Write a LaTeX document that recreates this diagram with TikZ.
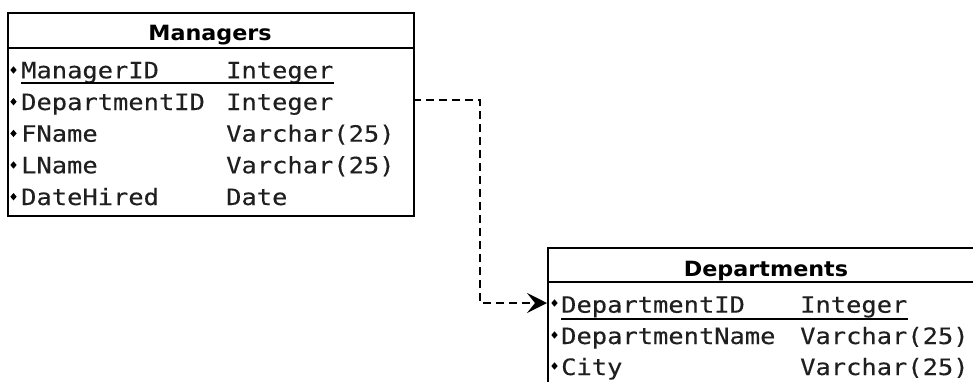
\documentclass[tikz,border=0pt]{standalone}
\usepackage{fontspec}
\usepackage{graphicx}
\usetikzlibrary{arrows.meta,shapes.geometric}
\newfontfamily\monofnt[FakeBold=0.2]{DejaVu Sans Mono}
\newfontfamily\titlefnt{DejaVu Sans}
\newcommand\hsc[1]{\scalebox{1.13}[1]{#1}}
\newcommand\hst[1]{\scalebox{1.06}[1]{#1}}
\tikzset{
  field/.style={anchor=base west, inner sep=0pt, font=\monofnt\fontsize{22.5}{22.5}\selectfont, text=black!88},
  ttl/.style={anchor=base, inner sep=0pt, font=\titlefnt\bfseries\fontsize{21}{21}\selectfont, text=black},
  tbl/.style={draw, line width=2.2pt, anchor=north west, inner sep=0pt},
  hline/.style={line width=2.2pt},
  uline/.style={line width=1.8pt, black},
  bul/.style={diamond, fill=black, inner sep=0pt, minimum width=6.5pt, minimum height=7.5pt},
  conn/.style={line width=1.8pt, dash pattern=on 8pt off 5pt, -{Stealth[length=20pt,width=20pt,inset=8pt]}}
}
\begin{document}
\begin{tikzpicture}[x=1pt,y=-1pt]
\useasboundingbox (0,0) rectangle (973,381);
\clip (0,0) rectangle (973,381);
\fill[white] (0,0) rectangle (973,381);

% Managers table
\node[tbl, minimum width=406pt, minimum height=203pt] (mgr) at (7,12) {};
\draw[hline] (7,47.7) -- (413,47.7);
\node[ttl] (mgrt) at (210,40.7) {\hst{Managers}};

\node[field] (m1) at (21,78.3) {\hsc{ManagerID}};
\node[field] (m2) at (21,110) {\hsc{DepartmentID}};
\node[field] (m3) at (21,141.7) {\hsc{FName}};
\node[field] (m4) at (21,173.3) {\hsc{LName}};
\node[field] (m5) at (21,205) {\hsc{DateHired}};

\node[field] (t1) at (226,78.3) {\hsc{Integer}};
\node[field] (t2) at (226,110) {\hsc{Integer}};
\node[field] (t3) at (226,141.7) {\hsc{Varchar(25)}};
\node[field] (t4) at (226,173.3) {\hsc{Varchar(25)}};
\node[field] (t5) at (226,205) {\hsc{Date}};

\node[bul] (b1) at (13.5,70) {};
\node[bul] (b2) at (13.5,101.7) {};
\node[bul] (b3) at (13.5,133.4) {};
\node[bul] (b4) at (13.5,165) {};
\node[bul] (b5) at (13.5,196.7) {};

\draw[uline] ([yshift=-5pt]m1.base west) -- ([yshift=-5pt]t1.base east);

% Departments table
\node[tbl, minimum width=438pt, minimum height=200pt] (dep) at (547,246.5) {};
\draw[hline] (547,282.3) -- (990,282.3);
\node[ttl] (dept) at (766,276) {\hst{Departments}};

\node[field] (d1) at (561,312.7) {\hsc{DepartmentID}};
\node[field] (d2) at (561,344) {\hsc{DepartmentName}};
\node[field] (d3) at (561,375) {\hsc{City}};

\node[field] (u1) at (800,312.7) {\hsc{Integer}};
\node[field] (u2) at (800,344) {\hsc{Varchar(25)}};
\node[field] (u3) at (800,375) {\hsc{Varchar(25)}};

\node[bul] (e1) at (554.5,303) {};
\node[bul] (e2) at (554.5,335) {};
\node[bul] (e3) at (554.5,366) {};

\draw[uline] ([yshift=-6pt]d1.base west) -- ([yshift=-6pt]u1.base east);

% connector
\coordinate (mport) at (413,100);
\coordinate (bend) at (480,0);
\draw[conn] (mport) -| (bend |- e1) -- (dep.west |- e1);
\end{tikzpicture}
\end{document}
